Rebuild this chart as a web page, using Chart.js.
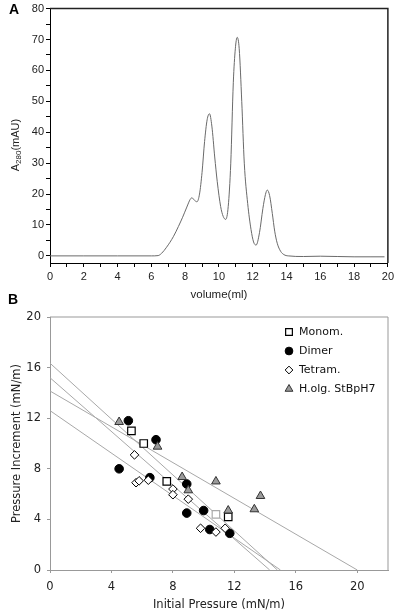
<!DOCTYPE html>
<html lang="en">
<head>
<meta charset="UTF-8" />
<title>Elution profile and pressure increment</title>
<script src="https://cdn.jsdelivr.net/npm/chart.js"></script>
<style>
  body { margin: 0; background: #fff; }
  #wrap { position: relative; width: 397px; height: 613px; }
  canvas { position: absolute; left: 0; }
  #chartA { top: 0; }
  #chartB { top: 302px; }
  .panel { position: absolute; font: bold 14px "Liberation Sans", Arial, sans-serif; color: #000; }
</style>
</head>
<body>
<div id="wrap">
  <canvas id="chartA" width="397" height="302"></canvas>
  <canvas id="chartB" width="397" height="311"></canvas>
  <div class="panel" style="left:9px;top:1px">A</div>
  <div class="panel" style="left:8px;top:291px">B</div>
</div>
<script>
// --- panel A: elution profile ---
const volume = [0, 2, 4, 6, 6.4, 6.6, 6.9, 7.3, 7.6, 7.85, 8.1, 8.3, 8.4, 8.55, 8.7, 8.85, 9.0, 9.15, 9.3, 9.44,
  9.58, 9.75, 9.9, 10.1, 10.25, 10.4, 10.55, 10.7, 10.85, 10.97, 11.08, 11.2, 11.35, 11.5, 11.7, 11.9, 12.05, 12.2,
  12.4, 12.6, 12.75, 12.86, 13.0, 13.16, 13.3, 13.45, 13.65, 13.85, 14.1, 15, 16, 17, 18, 19, 19.8];
const absorbance = [0, 0, 0, 0, 0.1, 0.8, 2.8, 6.2, 9.5, 12.5, 15.8, 18.3, 18.8, 18.0, 17.5, 20, 27, 37, 44, 46,
  42, 32, 24, 16, 12.8, 11.8, 16, 30, 56, 67, 70.7, 67, 50, 30, 17, 8.5, 4.5, 3.5,
  7.5, 15.3, 19.8, 21.3, 19.5, 13.7, 8, 4.1, 1.5, 0.4, 0, -0.2, -0.1, -0.2, -0.3, -0.3, -0.3];
const volumeTicks = [0, 2, 4, 6, 8, 10, 12, 14, 16, 18, 20];
const absorbanceTicks = [0, 10, 20, 30, 40, 50, 60, 70, 80];

// --- panel B: pressure increment vs initial pressure ---
const seriesNames = ['Monom.', 'Dimer', 'Tetram.', 'H.olg. StBpH7'];
const monomP = [5.3, 6.1, 7.6, 10.8, 11.6];
const monomI = [11.0, 10.0, 7.0, 4.4, 4.2];
const dimerP = [4.5, 5.1, 6.5, 6.9, 8.9, 8.9, 10.0, 10.4, 11.7];
const dimerI = [8.0, 11.8, 7.3, 10.3, 6.8, 4.5, 4.7, 3.2, 2.9];
const tetraP = [5.5, 5.6, 5.8, 6.4, 8.0, 8.0, 9.0, 9.8, 10.8, 11.4];
const tetraI = [9.1, 6.9, 7.05, 7.1, 6.4, 5.95, 5.6, 3.3, 3.0, 3.3];
const holgP = [4.5, 7.0, 8.6, 9.0, 10.8, 11.6, 13.3, 13.7];
const holgI = [11.7, 9.75, 7.35, 6.3, 7.0, 4.7, 4.8, 5.85];
// fitted lines: value at x = 0 and x where they reach 0
const fitStart = [16.35, 15.2, 12.6, 14.15];
const fitEnd = [14.8, 14.3, 15.0, 20.0];
const pressureTicks = [0, 4, 8, 12, 16, 20];

const zip = (xs, ys) => xs.map((x, i) => ({ x, y: ys[i] }));
const range = (a, b, s) => { const r = []; for (let v = a; v <= b + 1e-9; v += s) r.push(v); return r; };

function framePlugin(color, width) {
  return {
    id: 'frame',
    afterDraw(chart) {
      const a = chart.chartArea, ctx = chart.ctx;
      ctx.save();
      ctx.strokeStyle = color;
      ctx.lineWidth = width;
      ctx.beginPath();
      ctx.moveTo(a.left, a.top);
      ctx.lineTo(a.right, a.top);
      ctx.lineTo(a.right, a.bottom);
      ctx.stroke();
      ctx.restore();
    }
  };
}

const fontA = '"Liberation Sans", Arial, sans-serif';
const fontB = '"DejaVu Sans", Verdana, sans-serif';

// y title with subscript for panel A
const yTitleA = {
  id: 'yTitleA',
  afterDraw(chart) {
    const ctx = chart.ctx;
    ctx.save();
    ctx.translate(16, 145);
    ctx.rotate(-Math.PI / 2);
    ctx.fillStyle = '#222';
    ctx.textBaseline = 'middle';
    const big = '11px ' + fontA, small = '8px ' + fontA;
    ctx.font = big; const wA = ctx.measureText('A').width; const wU = ctx.measureText('(mAU)').width;
    ctx.font = small; const wS = ctx.measureText('280').width;
    let x = -(wA + wS + wU) / 2;
    ctx.font = big; ctx.fillText('A', x, 0); x += wA;
    ctx.font = small; ctx.fillText('280', x, 3); x += wS;
    ctx.font = big; ctx.fillText('(mAU)', x, 0);
    ctx.restore();
  }
};

new Chart(document.getElementById('chartA'), {
  type: 'scatter',
  data: {
    datasets: [{
      data: zip(volume, absorbance),
      showLine: true,
      borderColor: '#6a6a6a',
      borderWidth: 1,
      pointRadius: 0,
      cubicInterpolationMode: 'monotone'
    }]
  },
  options: {
    responsive: false,
    animation: false,
    layout: { padding: { top: 7, right: 9, left: 0, bottom: 0 } },
    plugins: { legend: { display: false }, tooltip: { enabled: false } },
    scales: {
      x: {
        type: 'linear', min: 0, max: 20,
        afterBuildTicks: s => { s.ticks = range(0, 20, 1).map(value => ({ value })); },
        afterFit: s => { s.height = 39; },
        ticks: {
          autoSkip: false, maxRotation: 0, padding: 3, color: '#222',
          font: { family: fontA, size: 11 },
          callback: v => volumeTicks.includes(v) ? v : ''
        },
        grid: { drawOnChartArea: false, tickLength: 4, color: '#000' },
        border: { color: '#000', width: 1 },
        title: { display: true, text: 'volume(ml)', color: '#222', padding: { top: 0, bottom: 0 },
          font: { family: fontA, size: 11.5 } }
      },
      y: {
        type: 'linear', min: -2.3, max: 80,
        afterBuildTicks: s => { s.ticks = range(0, 80, 5).map(value => ({ value })); },
        afterFit: s => { s.width = 50; },
        ticks: {
          autoSkip: false, padding: 2, color: '#222',
          font: { family: fontA, size: 11 },
          callback: v => absorbanceTicks.includes(v) ? v : ''
        },
        grid: { drawOnChartArea: false, tickLength: 4, color: '#000' },
        border: { color: '#000', width: 1 }
      }
    }
  },
  plugins: [framePlugin('#222', 1.5), yTitleA]
});

// --- panel B ---
const markers = [
  { style: 'rect', radius: 5.3, fill: '#fff', stroke: '#000', bw: 1.2 },
  { style: 'circle', radius: 4.3, fill: '#000', stroke: '#000', bw: 1 },
  { style: 'rectRot', radius: 4.3, fill: '#fff', stroke: '#000', bw: 1 },
  { style: 'triangle', radius: 5, fill: '#9a9a9a', stroke: '#333', bw: 1 }
];
const pointSets = [zip(monomP, monomI), zip(dimerP, dimerI), zip(tetraP, tetraI), zip(holgP, holgI)];
const drawOrder = [3, 4, 2, 1];

const datasets = pointSets.map((pts, i) => ({
  label: seriesNames[i],
  data: pts,
  order: drawOrder[i],
  pointStyle: markers[i].style,
  pointRadius: markers[i].radius,
  pointBackgroundColor: markers[i].fill,
  pointBorderColor: i === 0 ? pts.map((p, j) => j === 3 ? '#aaa' : '#000') : markers[i].stroke,
  pointBorderWidth: markers[i].bw,
  showLine: false
}));
fitStart.forEach((y0, i) => {
  datasets.push({
    label: 'fit ' + seriesNames[i],
    data: [{ x: 0, y: y0 }, { x: fitEnd[i], y: 0 }],
    order: 10,
    showLine: true,
    borderColor: '#a8a8a8',
    borderWidth: 1,
    pointRadius: 0
  });
});

const legendB = {
  id: 'legendB',
  afterDraw(chart) {
    const ctx = chart.ctx;
    ctx.save();
    ctx.font = '11px ' + fontB;
    ctx.textBaseline = 'middle';
    seriesNames.forEach((name, i) => {
      const y = 30 + i * 19, m = markers[i];
      ctx.fillStyle = m.fill;
      ctx.strokeStyle = m.stroke;
      ctx.lineWidth = m.bw;
      Chart.helpers.drawPoint(ctx, { pointStyle: m.style, radius: m.radius * 0.9, rotation: 0, borderWidth: m.bw }, 289, y);
      ctx.fillStyle = '#111';
      ctx.fillText(name, 299, y + 0.5);
    });
    ctx.restore();
  }
};

new Chart(document.getElementById('chartB'), {
  type: 'scatter',
  data: { datasets },
  options: {
    responsive: false,
    animation: false,
    layout: { padding: { top: 15, right: 9, left: 0, bottom: 0 } },
    plugins: { legend: { display: false }, tooltip: { enabled: false } },
    scales: {
      x: {
        type: 'linear', min: 0, max: 22,
        afterBuildTicks: s => { s.ticks = pressureTicks.map(value => ({ value })); },
        afterFit: s => { s.height = 43; },
        ticks: { autoSkip: false, maxRotation: 0, padding: 7, color: '#222', font: { family: fontB, size: 11.5 } },
        grid: { drawOnChartArea: false, tickLength: 3, color: '#999' },
        border: { color: '#999', width: 1 },
        title: { display: true, text: 'Initial Pressure (mN/m)', color: '#222', padding: { top: 0, bottom: 1 },
          font: { family: fontB, size: 11.5 } }
      },
      y: {
        type: 'linear', min: 0, max: 20,
        afterBuildTicks: s => { s.ticks = pressureTicks.map(value => ({ value })); },
        afterFit: s => { s.width = 50; },
        ticks: { autoSkip: false, padding: 6, color: '#222', font: { family: fontB, size: 11.5 } },
        grid: { drawOnChartArea: false, tickLength: 3, color: '#999' },
        border: { color: '#999', width: 1 },
        title: { display: true, text: 'Pressure Increment (mN/m)', color: '#222', padding: { top: 10, bottom: 0 },
          font: { family: fontB, size: 11.5 } }
      }
    }
  },
  plugins: [framePlugin('#999', 1), legendB]
});
</script>
</body>
</html>
